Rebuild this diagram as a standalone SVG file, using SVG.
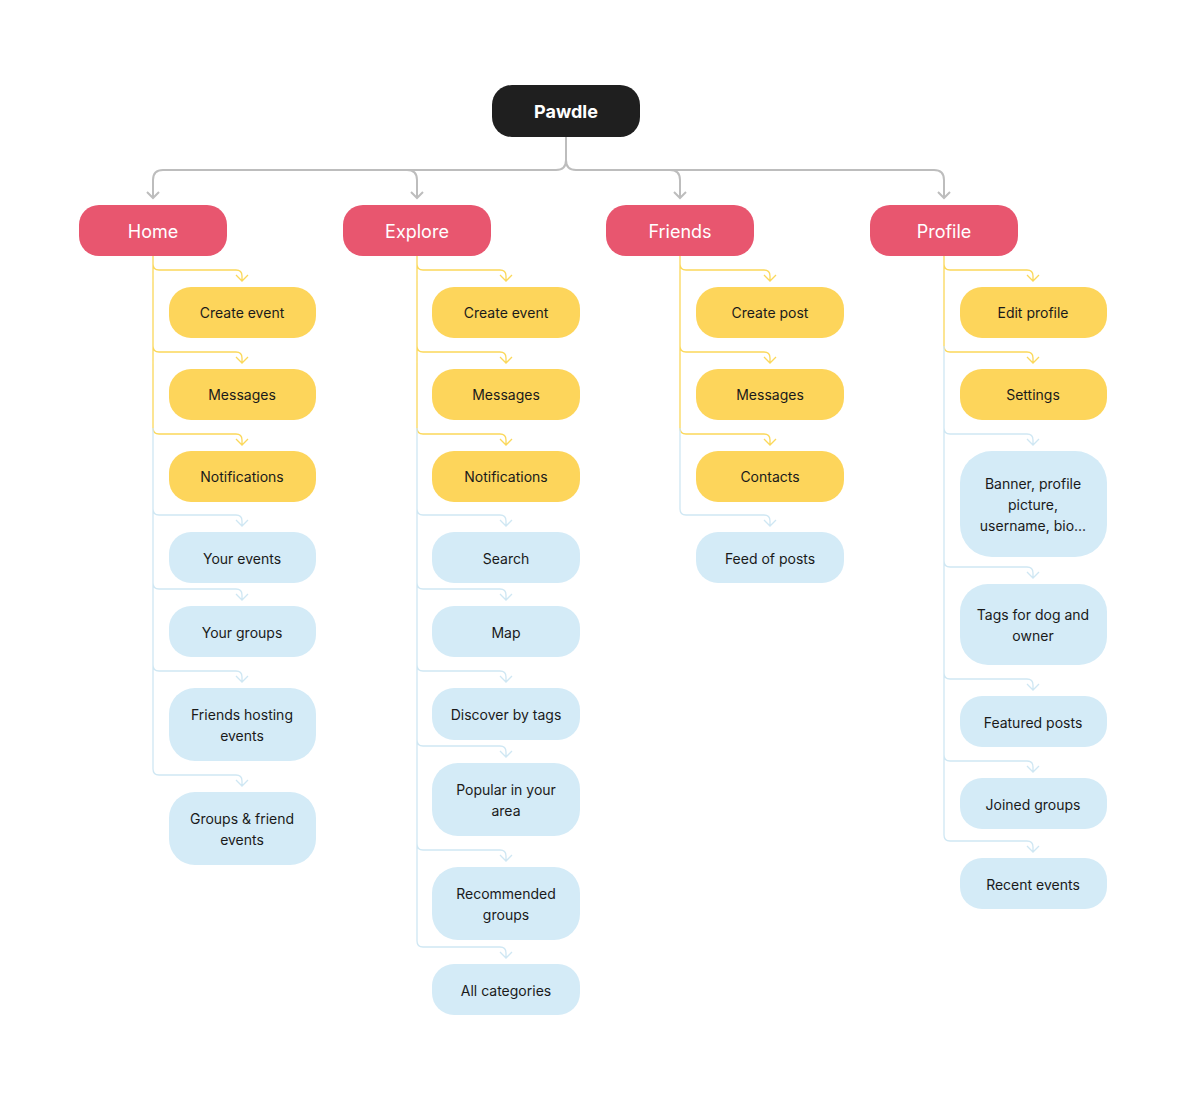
<svg xmlns="http://www.w3.org/2000/svg" width="1200" height="1101" viewBox="0 0 1200 1101">
<style>
text{font-family:Inter,"Noto Sans","Liberation Sans",sans-serif;text-anchor:middle;dominant-baseline:central}
.r{fill:#e8566f}.y{fill:#fdd55b}.b{fill:#d4ebf7}
.tr{fill:#fff;font-size:18px}.tc{fill:#1a1a1a;font-size:14px}
.cg{fill:none;stroke:#bdbdbd;stroke-width:2}
.cy{fill:none;stroke:#fbd85a;stroke-width:1.3}
.cb{fill:none;stroke:#cfe7f3;stroke-width:1.3}
</style>
<g id="connectors">
<path class="cg" d="M566,137V160Q566,170 556,170H163Q153,170 153,180V198M566,160Q566,170 576,170H934Q944,170 944,180V198M417,170Q427,170 427,170M407,170Q417,170 417,180V198M670,170Q680,170 680,180V198"/>
<path class="cg" d="M147,192L153,198L159,192M411,192L417,198L423,192M674,192L680,198L686,192M938,192L944,198L950,192"/>
<g id="home-c">
<path class="cy" d="M153,256V264Q153,270 159,270H236Q242,270 242,276V281M236,275L242,281L248,275M153,264V346Q153,352 159,352H236Q242,352 242,358V363M236,357L242,363L248,357M153,346V428Q153,434 159,434H236Q242,434 242,440V445M236,439L242,445L248,439"/>
<path class="cb" d="M153,428V509Q153,515 159,515H236Q242,515 242,521V526M236,520L242,526L248,520M153,509V583Q153,589 159,589H236Q242,589 242,595V600M236,594L242,600L248,594M153,583V665Q153,671 159,671H236Q242,671 242,677V682M236,676L242,682L248,676M153,665V769Q153,775 159,775H236Q242,775 242,781V786M236,780L242,786L248,780"/>
</g>
<g id="explore-c">
<path class="cy" d="M417,256V264Q417,270 423,270H500Q506,270 506,276V281M500,275L506,281L512,275M417,264V346Q417,352 423,352H500Q506,352 506,358V363M500,357L506,363L512,357M417,346V428Q417,434 423,434H500Q506,434 506,440V445M500,439L506,445L512,439"/>
<path class="cb" d="M417,428V509Q417,515 423,515H500Q506,515 506,521V526M500,520L506,526L512,520M417,509V583Q417,589 423,589H500Q506,589 506,595V600M500,594L506,600L512,594M417,583V665Q417,671 423,671H500Q506,671 506,677V682M500,676L506,682L512,676M417,665V740Q417,746 423,746H500Q506,746 506,752V757M500,751L506,757L512,751M417,740V844Q417,850 423,850H500Q506,850 506,856V861M500,855L506,861L512,855M417,844V941Q417,947 423,947H500Q506,947 506,953V958M500,952L506,958L512,952"/>
</g>
<g id="friends-c">
<path class="cy" d="M680,256V264Q680,270 686,270H764Q770,270 770,276V281M764,275L770,281L776,275M680,264V346Q680,352 686,352H764Q770,352 770,358V363M764,357L770,363L776,357M680,346V428Q680,434 686,434H764Q770,434 770,440V445M764,439L770,445L776,439"/>
<path class="cb" d="M680,428V509Q680,515 686,515H764Q770,515 770,521V526M764,520L770,526L776,520"/>
</g>
<g id="profile-c">
<path class="cy" d="M944,256V264Q944,270 950,270H1027Q1033,270 1033,276V281M1027,275L1033,281L1039,275M944,264V346Q944,352 950,352H1027Q1033,352 1033,358V363M1027,357L1033,363L1039,357"/>
<path class="cb" d="M944,346V428Q944,434 950,434H1027Q1033,434 1033,440V445M1027,439L1033,445L1039,439M944,428V561Q944,567 950,567H1027Q1033,567 1033,573V578M1027,572L1033,578L1039,572M944,561V673Q944,679 950,679H1027Q1033,679 1033,685V690M1027,684L1033,690L1039,684M944,673V755Q944,761 950,761H1027Q1033,761 1033,767V772M1027,766L1033,772L1039,766M944,755V835Q944,841 950,841H1027Q1033,841 1033,847V852M1027,846L1033,852L1039,846"/>
</g>
</g>
<g id="root"><rect x="492" y="85" width="148" height="52" rx="20" fill="#1f1f1f"/><text x="566" y="111" fill="#fff" font-size="18" font-weight="bold">Pawdle</text></g>
<g id="home"><rect class="r" x="79" y="205" width="148" height="51" rx="20"/><text class="tr" x="153" y="231">Home</text></g>
<g id="explore"><rect class="r" x="343" y="205" width="148" height="51" rx="20"/><text class="tr" x="417" y="231">Explore</text></g>
<g id="friends"><rect class="r" x="606" y="205" width="148" height="51" rx="20"/><text class="tr" x="680" y="231">Friends</text></g>
<g id="profile"><rect class="r" x="870" y="205" width="148" height="51" rx="20"/><text class="tr" x="944" y="231">Profile</text></g>

<g id="h1"><rect class="y" x="169" y="287" width="147" height="51" rx="22"/><text class="tc" x="242" y="312">Create event</text></g>
<g id="h2"><rect class="y" x="169" y="369" width="147" height="51" rx="22"/><text class="tc" x="242" y="394">Messages</text></g>
<g id="h3"><rect class="y" x="169" y="451" width="147" height="51" rx="22"/><text class="tc" x="242" y="476">Notifications</text></g>
<g id="h4"><rect class="b" x="169" y="532" width="147" height="51" rx="22"/><text class="tc" x="242" y="558">Your events</text></g>
<g id="h5"><rect class="b" x="169" y="606" width="147" height="51" rx="22"/><text class="tc" x="242" y="632">Your groups</text></g>
<g id="h6"><rect class="b" x="169" y="688" width="147" height="73" rx="26"/><text class="tc" x="242" y="714">Friends hosting</text><text class="tc" x="242" y="735">events</text></g>
<g id="h7"><rect class="b" x="169" y="792" width="147" height="73" rx="26"/><text class="tc" x="242" y="818">Groups &amp; friend</text><text class="tc" x="242" y="839">events</text></g>

<g id="e1"><rect class="y" x="432" y="287" width="148" height="51" rx="22"/><text class="tc" x="506" y="312">Create event</text></g>
<g id="e2"><rect class="y" x="432" y="369" width="148" height="51" rx="22"/><text class="tc" x="506" y="394">Messages</text></g>
<g id="e3"><rect class="y" x="432" y="451" width="148" height="51" rx="22"/><text class="tc" x="506" y="476">Notifications</text></g>
<g id="e4"><rect class="b" x="432" y="532" width="148" height="51" rx="22"/><text class="tc" x="506" y="558">Search</text></g>
<g id="e5"><rect class="b" x="432" y="606" width="148" height="51" rx="22"/><text class="tc" x="506" y="632">Map</text></g>
<g id="e6"><rect class="b" x="432" y="688" width="148" height="52" rx="22"/><text class="tc" x="506" y="714">Discover by tags</text></g>
<g id="e7"><rect class="b" x="432" y="763" width="148" height="73" rx="26"/><text class="tc" x="506" y="789">Popular in your</text><text class="tc" x="506" y="810">area</text></g>
<g id="e8"><rect class="b" x="432" y="867" width="148" height="73" rx="26"/><text class="tc" x="506" y="893">Recommended</text><text class="tc" x="506" y="914">groups</text></g>
<g id="e9"><rect class="b" x="432" y="964" width="148" height="51" rx="22"/><text class="tc" x="506" y="990">All categories</text></g>

<g id="f1"><rect class="y" x="696" y="287" width="148" height="51" rx="22"/><text class="tc" x="770" y="312">Create post</text></g>
<g id="f2"><rect class="y" x="696" y="369" width="148" height="51" rx="22"/><text class="tc" x="770" y="394">Messages</text></g>
<g id="f3"><rect class="y" x="696" y="451" width="148" height="51" rx="22"/><text class="tc" x="770" y="476">Contacts</text></g>
<g id="f4"><rect class="b" x="696" y="532" width="148" height="51" rx="22"/><text class="tc" x="770" y="558">Feed of posts</text></g>

<g id="p1"><rect class="y" x="960" y="287" width="147" height="51" rx="22"/><text class="tc" x="1033" y="312">Edit profile</text></g>
<g id="p2"><rect class="y" x="960" y="369" width="147" height="51" rx="22"/><text class="tc" x="1033" y="394">Settings</text></g>
<g id="p3"><rect class="b" x="960" y="451" width="147" height="106" rx="32"/><text class="tc" x="1033" y="483">Banner, profile</text><text class="tc" x="1033" y="504">picture,</text><text class="tc" x="1033" y="525">username, bio...</text></g>
<g id="p4"><rect class="b" x="960" y="584" width="147" height="81" rx="28"/><text class="tc" x="1033" y="614">Tags for dog and</text><text class="tc" x="1033" y="635">owner</text></g>
<g id="p5"><rect class="b" x="960" y="696" width="147" height="51" rx="22"/><text class="tc" x="1033" y="722">Featured posts</text></g>
<g id="p6"><rect class="b" x="960" y="778" width="147" height="51" rx="22"/><text class="tc" x="1033" y="804">Joined groups</text></g>
<g id="p7"><rect class="b" x="960" y="858" width="147" height="51" rx="22"/><text class="tc" x="1033" y="884">Recent events</text></g>
</svg>
